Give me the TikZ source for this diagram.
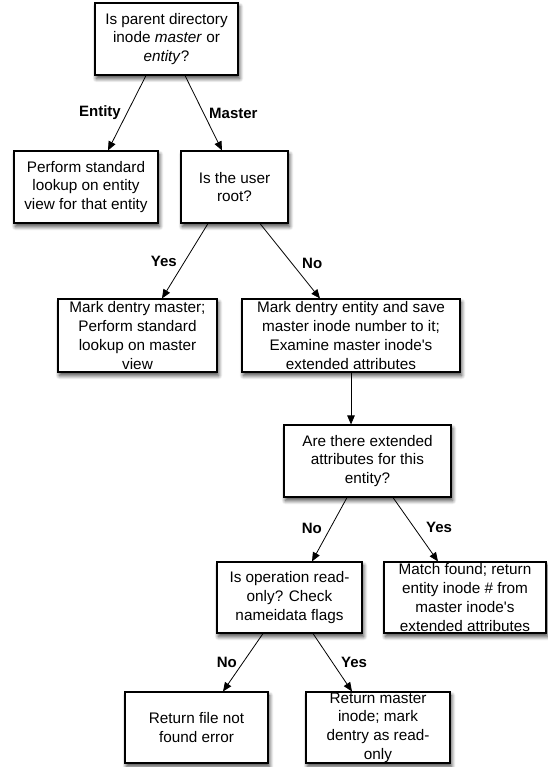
\documentclass[tikz,border=0pt]{standalone}
\usepackage{fontspec}
\setmainfont{Liberation Sans}
\usetikzlibrary{arrows.meta,shadows.blur}
\newcommand{\apos}{\textquotesingle}
\begin{document}
\begin{tikzpicture}[x=1pt,y=-1pt,
  box/.style={draw=black,line width=1.1pt,fill=white,align=center,inner sep=0pt,
    font=\fontsize{15.3}{18.7}\selectfont,
    blur shadow={shadow xshift=1.5pt,shadow yshift=-3.5pt,shadow blur steps=8,shadow blur radius=4pt,shadow opacity=75}},
  flow/.style={draw=black,line width=0.8pt,-{Triangle[length=9pt,width=7.5pt]}},
  lab/.style={font=\fontsize{15}{18}\selectfont\bfseries,inner sep=0pt}]
\useasboundingbox (0,0) rectangle (547,767);

% decision and action boxes
\node[box,minimum width=143pt,minimum height=72pt] (top) at (166.5,39)
  {Is parent directory\\inode \textit{master} or\\\textit{entity}?};
\node[box,minimum width=144pt,minimum height=72pt] (entity) at (86,187)
  {Perform standard\\lookup on entity\\view for that entity};
\node[box,minimum width=107pt,minimum height=72pt] (root) at (234.5,187)
  {Is the user\\root?};
\node[box,minimum width=159pt,minimum height=73pt] (mastview) at (137.5,335.5)
  {Mark dentry master;\\Perform standard\\lookup on master\\view};
\node[box,minimum width=218pt,minimum height=73pt] (markent) at (351,335.5)
  {Mark dentry entity and save\\master inode number to it;\\Examine master inode\apos s\\extended attributes};
\node[box,minimum width=167pt,minimum height=72pt] (attr) at (367.5,461)
  {Are there extended\\attributes for this\\entity?};
\node[box,minimum width=145pt,minimum height=71pt] (ro) at (289.5,597.5)
  {Is operation read-\\only? Check\\nameidata flags};
\node[box,minimum width=162pt,minimum height=71pt] (match) at (465,597.5)
  {Match found; return\\entity inode \# from\\master inode\apos s\\extended attributes};
\node[box,minimum width=143pt,minimum height=71pt] (notfound) at (196.5,727.5)
  {Return file not\\found error};
\node[box,minimum width=144pt,minimum height=71pt] (retmaster) at (378,727.5)
  {Return master\\inode; mark\\dentry as read-\\only};

% connectors
\draw[flow] ([xshift=-20.5pt]top.south) -- ([xshift=22pt]entity.north);
\draw[flow] ([xshift=18.5pt]top.south) -- ([xshift=-12.5pt]root.north);
\draw[flow] ([xshift=-26.5pt]root.south) -- ([xshift=24.5pt]mastview.north);
\draw[flow] ([xshift=25.5pt]root.south) -- ([xshift=-31pt]markent.north);
\draw[flow] (markent.south) -- (markent.south |- attr.north);
\draw[flow] ([xshift=-20.5pt]attr.south) -- ([xshift=22.5pt]ro.north);
\draw[flow] ([xshift=25.5pt]attr.south) -- ([xshift=-27pt]match.north);
\draw[flow] ([xshift=-26.5pt]ro.south) -- ([xshift=26.5pt]notfound.north);
\draw[flow] ([xshift=23.5pt]ro.south) -- ([xshift=-26pt]retmaster.north);

% branch labels
\node[lab,anchor=east] (lEntity) at (121,113) {Entity};
\node[lab,anchor=west] (lMaster) at (209,113) {Master};
\node[lab,anchor=east] (lYes1) at (177,261) {Yes};
\node[lab,anchor=west] (lNo1) at (302,263) {No};
\node[lab,anchor=east] (lNo2) at (322,528) {No};
\node[lab,anchor=west] (lYes2) at (426,527) {Yes};
\node[lab,anchor=east] (lNo3) at (237,662) {No};
\node[lab,anchor=west] (lYes3) at (341,662) {Yes};
\end{tikzpicture}
\end{document}
